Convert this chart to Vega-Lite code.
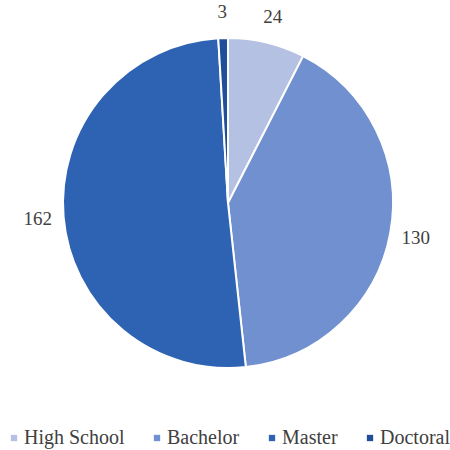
{
  "$schema": "https://vega.github.io/schema/vega-lite/v6.json",
  "width": 456,
  "height": 406,
  "autosize": {"type": "none"},
  "padding": {"left": 0, "top": 0, "right": 0, "bottom": 44},
  "background": "white",
  "data": {"values": [
    {"level": "High School", "count": 24, "ord": 1},
    {"level": "Bachelor", "count": 130, "ord": 2},
    {"level": "Master", "count": 162, "ord": 3},
    {"level": "Doctoral", "count": 3, "ord": 4}
  ]},
  "encoding": {
    "theta": {"field": "count", "type": "quantitative", "stack": true},
    "order": {"field": "ord", "type": "quantitative"},
    "color": {
      "field": "level", "type": "nominal",
      "sort": ["High School", "Bachelor", "Master", "Doctoral"],
      "scale": {"domain": ["High School", "Bachelor", "Master", "Doctoral"], "range": ["#b4c1e2", "#7190cf", "#2e63b3", "#1f4f98"]},
      "legend": {
        "orient": "none", "legendX": 4, "legendY": 428, "direction": "horizontal",
        "title": null, "symbolType": "square", "symbolSize": 40,
        "labelFont": "Liberation Serif", "labelFontSize": 20, "labelColor": "#404040",
        "columnPadding": 22, "labelOffset": 0, "symbolStrokeWidth": 0, "labelLimit": 200
      }
    }
  },
  "layer": [
    {"mark": {"type": "arc", "outerRadius": 165, "stroke": "white", "strokeWidth": 2}},
    {"mark": {"type": "text", "radius": 191, "font": "Liberation Serif", "fontSize": 19, "fill": "#404040"},
     "encoding": {"text": {"field": "count", "type": "quantitative"}, "color": {"value": "#404040"}}}
  ]
}
